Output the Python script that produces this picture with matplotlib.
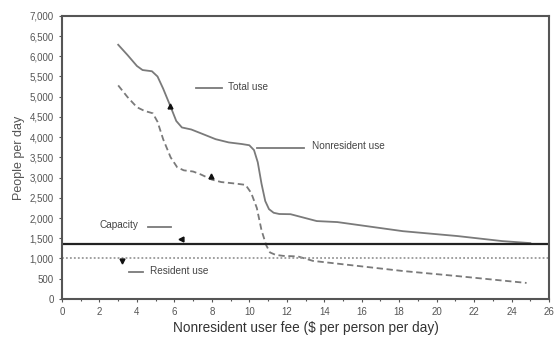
import numpy as np
import matplotlib.pyplot as plt
from matplotlib.ticker import FuncFormatter, MultipleLocator

plt.rcParams['font.family'] = ['Liberation Sans', 'DejaVu Sans']

# values
total_fee = [3.0, 3.5, 4.0, 4.3, 4.8, 5.1, 5.4, 5.8, 6.1, 6.4, 6.9, 7.5, 8.2, 8.9, 9.6, 10.0,
             10.25, 10.45, 10.65, 10.85, 11.05, 11.3, 11.6, 12.2, 13.6, 14.7, 18.2, 21.1, 23.5, 25.0]
total_use = [6285, 6030, 5760, 5660, 5630, 5500, 5200, 4750, 4400, 4240, 4190, 4080, 3950, 3870, 3830, 3800,
             3680, 3380, 2850, 2420, 2220, 2130, 2100, 2095, 1925, 1900, 1675, 1555, 1430, 1380]

res_fee = [3.0, 3.5, 4.0, 4.4, 4.85, 5.1, 5.4, 5.8, 6.15, 6.5, 7.0, 7.4, 8.0, 8.5, 9.3, 9.8,
           10.1, 10.4, 10.65, 10.9, 11.1, 11.4, 11.8, 12.6, 13.4, 18.2, 21.1, 24.8]
res_use = [5280, 4990, 4740, 4650, 4590, 4380, 3950, 3500, 3255, 3180, 3150, 3080, 2950, 2890, 2850, 2820,
           2620, 2250, 1700, 1330, 1150, 1090, 1065, 1050, 940, 690, 565, 395]

capacity = 1355
resident_use = 1000

fig = plt.figure(figsize=(5.56, 3.37), dpi=100)
ax = fig.add_axes([0.1115, 0.113, 0.876, 0.84])

gray = '#7a7a7a'
ax.plot(total_fee, total_use, color=gray, lw=1.3)
ax.plot(res_fee, res_use, color=gray, lw=1.3, ls=(0, (3.5, 2)))
ax.axhline(capacity, color='#222222', lw=1.6)
ax.axhline(resident_use, color='#999999', lw=1.3, ls=(0, (1, 1.2)))

# labels with short leader lines
lab = dict(fontsize=7.2, color='#444444', va='center')
ax.plot([7.15, 8.55], [5225, 5225], color=gray, lw=1.3)
ax.text(8.85, 5240, 'Total use', **lab)
ax.plot([10.4, 12.9], [3720, 3720], color=gray, lw=1.3)
ax.text(13.35, 3790, 'Nonresident use', **lab)
ax.plot([4.6, 5.8], [1790, 1790], color=gray, lw=1.3)
ax.text(2.0, 1840, 'Capacity', **lab)
ax.plot([3.6, 4.3], [660, 660], color=gray, lw=1.3)
ax.text(4.7, 700, 'Resident use', **lab)

# small arrowheads
ax.plot(5.77, 4780, marker='^', color='#111111', ms=3.5)
ax.plot(7.96, 3050, marker='^', color='#111111', ms=3.5)
ax.plot(6.35, 1480, marker='<', color='#111111', ms=3.5)
ax.plot(3.2, 940, marker='v', color='#111111', ms=3.5)

ax.set_xlim(0, 26)
ax.set_ylim(0, 7000)
ax.xaxis.set_major_locator(MultipleLocator(2))
ax.xaxis.set_minor_locator(MultipleLocator(1))
ax.yaxis.set_major_locator(MultipleLocator(500))
ax.yaxis.set_major_formatter(FuncFormatter(lambda v, p: f'{int(v):,}'))
ax.tick_params(axis='both', which='both', direction='out', labelsize=7,
               labelcolor='#555555', color='#555555', length=2.5, width=0.8)
ax.tick_params(which='minor', length=1.5)
for s in ax.spines.values():
    s.set_color('#555555')
    s.set_linewidth(1.5)

ax.set_xlabel('Nonresident user fee ($ per person per day)', fontsize=9.8,
              color='#333333', labelpad=3)
ax.set_ylabel('People per day', fontsize=9, color='#555555', labelpad=3)

fig.savefig('out.png', dpi=100)
